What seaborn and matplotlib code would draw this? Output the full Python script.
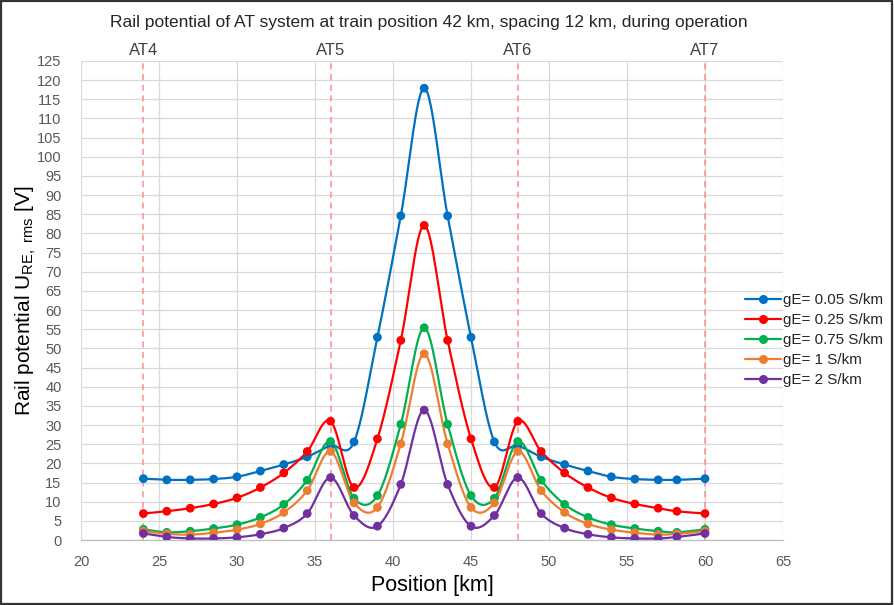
import numpy as np
import pandas as pd
import matplotlib
matplotlib.use("Agg")
import matplotlib.pyplot as plt
import seaborn as sns
from matplotlib.lines import Line2D
from matplotlib.patches import Rectangle

# ---------------- data ----------------
positions = [24, 25.5, 27, 28.5, 30, 31.5, 33, 34.5, 36, 37.5, 39, 40.5, 42,
             43.5, 45, 46.5, 48, 49.5, 51, 52.5, 54, 55.5, 57, 58.2, 60]

ge_005 = [16.0, 15.7, 15.7, 15.9, 16.5, 18.0, 19.7, 21.7, 24.6, 25.6, 52.9, 84.6, 117.9,
          84.6, 52.9, 25.6, 24.6, 21.7, 19.7, 18.0, 16.5, 15.9, 15.7, 15.7, 16.0]
ge_025 = [6.9, 7.5, 8.3, 9.4, 11.0, 13.7, 17.5, 23.1, 31.0, 13.7, 26.4, 52.1, 82.1,
          52.1, 26.4, 13.7, 31.0, 23.1, 17.5, 13.7, 11.0, 9.4, 8.3, 7.5, 6.9]
ge_075 = [2.8, 2.0, 2.3, 3.0, 4.0, 5.9, 9.3, 15.6, 25.7, 10.9, 11.6, 30.2, 55.4,
          30.2, 11.6, 10.9, 25.7, 15.6, 9.3, 5.9, 4.0, 3.0, 2.3, 2.0, 2.8]
ge_1 = [2.3, 1.6, 1.4, 1.9, 2.7, 4.2, 7.2, 12.9, 23.1, 9.7, 8.5, 25.1, 48.6,
        25.1, 8.5, 9.7, 23.1, 12.9, 7.2, 4.2, 2.7, 1.9, 1.4, 1.6, 2.3]
ge_2 = [1.7, 0.8, 0.4, 0.4, 0.7, 1.5, 3.1, 6.9, 16.3, 6.4, 3.6, 14.5, 33.9,
        14.5, 3.6, 6.4, 16.3, 6.9, 3.1, 1.5, 0.7, 0.4, 0.4, 0.8, 1.7]

series_labels = ["gE= 0.05 S/km", "gE= 0.25 S/km", "gE= 0.75 S/km", "gE= 1 S/km", "gE= 2 S/km"]
series_values = [ge_005, ge_025, ge_075, ge_1, ge_2]
colors = ["#0070C0", "#FF0000", "#00B050", "#ED7D31", "#7030A0"]

at_names = ["AT4", "AT5", "AT6", "AT7"]
at_positions = [24, 36, 48, 60]

x_ticks = list(range(20, 66, 5))
y_ticks = list(range(0, 126, 5))

title = "Rail potential of AT system at train position 42 km, spacing 12 km, during operation"

# ---------------- helpers ----------------
def smooth_curve(xs, ys, n=30):
    """Excel-style smoothed line (Catmull-Rom to cubic Bezier)."""
    P = np.column_stack([xs, ys]).astype(float)
    out = []
    m = len(P)
    t = np.linspace(0, 1, n)[:, None]
    for i in range(m - 1):
        p0 = P[i - 1] if i > 0 else P[i]
        p1 = P[i]
        p2 = P[i + 1]
        p3 = P[i + 2] if i + 2 < m else P[i + 1]
        c1 = p1 + (p2 - p0) / 6.0
        c2 = p2 - (p3 - p1) / 6.0
        seg = ((1 - t) ** 3) * p1 + 3 * ((1 - t) ** 2) * t * c1 + 3 * (1 - t) * t ** 2 * c2 + t ** 3 * p2
        out.append(seg if i == 0 else seg[1:])
    arr = np.vstack(out)
    return arr[:, 0], arr[:, 1]

# ---------------- figure ----------------
sns.set_style("white")
plt.rcParams["font.family"] = ["Liberation Sans", "DejaVu Sans"]
plt.rcParams["mathtext.default"] = "regular"

fig = plt.figure(figsize=(8.94, 6.05), dpi=100)
ax = fig.add_axes([81 / 894, 1 - 540 / 605, (783 - 81) / 894, (540 - 61) / 605])

ax.set_xlim(20, 65)
ax.set_ylim(0, 125)
ax.set_xticks(x_ticks)
ax.set_yticks(y_ticks)
ax.grid(True, color="#D9D9D9", linewidth=0.9)
ax.set_axisbelow(True)
for s in ["top", "right", "left"]:
    ax.spines[s].set_visible(False)
ax.spines["bottom"].set_color("#BFBFBF")
ax.spines["bottom"].set_linewidth(0.9)
ax.tick_params(axis="both", which="major", direction="out", length=4, width=0.8,
               color="#D9D9D9", labelcolor="#595959", labelsize=10.5)
ax.tick_params(axis="x", pad=7)
ax.tick_params(axis="y", pad=10)

# AT dashed lines and labels
for name, xp in zip(at_names, at_positions):
    ax.axvline(xp, color="#FF8C8C", linestyle=(0, (4, 3)), linewidth=1.1, zorder=1)
    ax.text(xp, 1.006, name, transform=ax.get_xaxis_transform(), ha="center", va="bottom",
            fontsize=12, color="#404040")

# smoothed lines
for vals, col in zip(series_values, colors):
    sx, sy = smooth_curve(positions, vals)
    ax.plot(sx, sy, color=col, linewidth=1.6, zorder=3, solid_capstyle="round")

# markers through seaborn
df = pd.DataFrame({
    "Position": np.tile(positions, len(series_labels)),
    "Value": np.concatenate(series_values),
    "Series": np.repeat(series_labels, len(positions)),
})
for lab, col in zip(series_labels, colors):
    sub = df[df["Series"] == lab]
    sns.scatterplot(data=sub, x="Position", y="Value", color=col, s=40, edgecolor="none",
                    ax=ax, legend=False, zorder=4)

ax.set_xlabel("Position [km]", fontsize=15.5, color="#000000", labelpad=4)
ax.set_ylabel("Rail potential U$_{RE,\\ rms}$ [V]", fontsize=15, color="#000000")
ax.yaxis.set_label_coords(-0.061, 0.5)

# legend
handles = [Line2D([0], [0], color=c, linewidth=1.6, marker="o", markersize=5.5) for c in colors]
fig.legend(handles, series_labels, loc="center left", bbox_to_anchor=(745 / 894, 1 - 340 / 605),
           frameon=False, fontsize=10.9, handlelength=2.4, handletextpad=0.1, labelspacing=0.4,
           borderaxespad=0, borderpad=0)

fig.text(429 / 894, 1 - 23 / 605, title, ha="center", va="center", fontsize=12.5, color="#262626")

# outer frame
fig.patches.append(Rectangle((0.001, 0.001), 0.997, 0.997, transform=fig.transFigure,
                             fill=False, edgecolor="#333333", linewidth=1.6))

fig.savefig("out.png", dpi=100)
